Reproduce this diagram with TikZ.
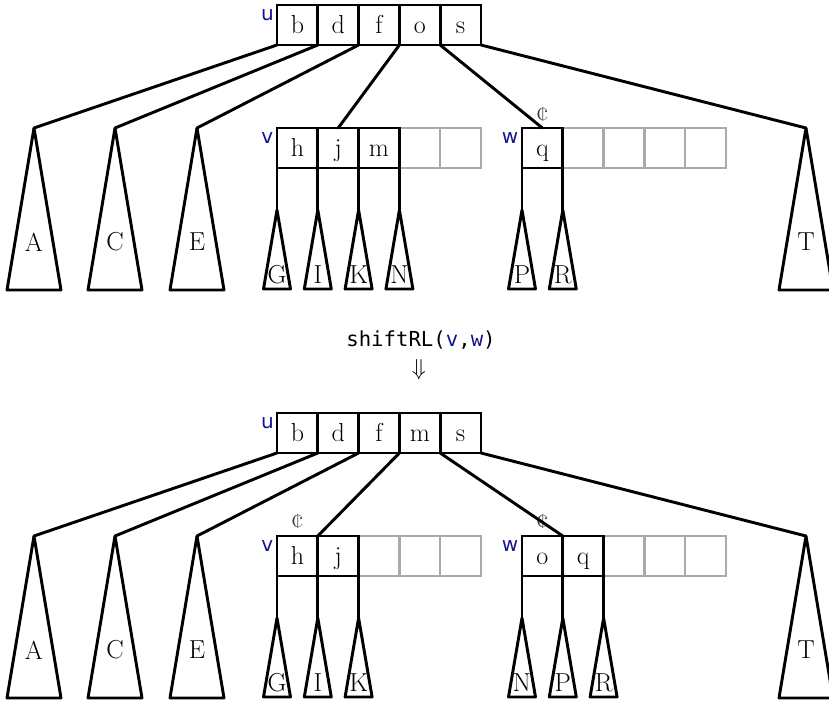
\documentclass[tikz,border=0pt]{standalone}
\usepackage{fontspec}
\usetikzlibrary{calc}
\newfontfamily\labfont{DejaVu Sans}
\newfontfamily\codefont{DejaVu Sans Mono}
\definecolor{lblue}{RGB}{20,20,140}
\definecolor{cellgray}{RGB}{170,170,170}
\definecolor{curgray}{RGB}{60,60,60}
\begin{document}
\begin{tikzpicture}[x=0.75pt,y=-0.75pt,
 cell/.style={draw=black, line width=2.2pt, minimum width=30.6pt, minimum height=30pt,
   inner sep=0pt, outer sep=0pt, text height=13.3pt, text depth=1.3pt,
   font=\fontsize{19.5}{22}\selectfont, anchor=north west},
 emptycell/.style={cell, draw=cellgray, line width=1.8pt},
 edge/.style={line width=2.2pt, line join=round, line cap=round},
 nodelab/.style={font=\labfont\fontsize{15}{17}\selectfont, text=lblue, anchor=north east, inner sep=0pt},
 treelab/.style={font=\fontsize{19.5}{22}\selectfont, inner sep=0pt},
 cursor/.style={font=\fontsize{21}{24}\selectfont, text=curgray, inner sep=0pt, anchor=south}
]
\useasboundingbox (0,0) rectangle (829,701);

\newcommand{\bigtree}[4]{% name, apex x, apex y, label
  \coordinate (#1) at (#2,#3);
  \draw[edge] (#1) -- ++(-27,162) -- ++(54,0) -- cycle;
  \node[treelab] (#1lab) at ($(#1)+(0,114)$) {#4};}
\newcommand{\smalltree}[4]{% name, anchor node point, label, dummy
  \coordinate (#1) at ($(#2)+(0,42)$);
  \draw[edge] (#2) -- (#1);
  \draw[edge] (#1) -- ++(-13.5,79) -- ++(27,0) -- cycle;
  \node[treelab] (#1lab) at ($(#1)+(0,65)$) {#3};}

% ================= upper =================
\foreach \t [count=\i] in {b,d,f,o,s}
  \node[cell] (Uu\i) at ({277+40.8*(\i-1)},5) {\t};
\node[nodelab] (Uulab) at ($(Uu1.north west)+(-3,4)$) {u};

\foreach \i in {4,5}
  \node[emptycell] (Uv\i) at ({277+40.8*(\i-1)},128) {};
\foreach \t [count=\i] in {h,j,m}
  \node[cell] (Uv\i) at ({277+40.8*(\i-1)},128) {\t};
\node[nodelab] (Uvlab) at ($(Uv1.north west)+(-3.5,4)$) {v};

\foreach \i in {2,3,4,5}
  \node[emptycell] (Uw\i) at ({522+40.8*(\i-1)},128) {};
\node[cell] (Uw1) at (522,128) {q};
\node[nodelab] (Uwlab) at ($(Uw1.north west)+(-3.5,4)$) {w};
\node[cursor] (Ucur) at ($(Uw1.north)+(0,-6)$) {¢};

\bigtree{UA}{34}{128}{A}
\bigtree{UC}{115}{128}{C}
\bigtree{UE}{197}{128}{E}
\bigtree{UT}{806}{128}{T}
\coordinate (Uvtop) at ($(Uv1.north west)!.5!(Uv3.north east)$);
\draw[edge] (Uu1.south west) -- (UA);
\draw[edge] (Uu2.south west) -- (UC);
\draw[edge] (Uu3.south west) -- (UE);
\draw[edge] (Uu4.south west) -- (Uvtop);
\draw[edge] (Uu5.south west) -- (Uw1.north);
\draw[edge] (Uu5.south east) -- (UT);

\smalltree{UG}{Uv1.south west}{G}{}
\smalltree{UI}{Uv2.south west}{I}{}
\smalltree{UK}{Uv3.south west}{K}{}
\smalltree{UN}{Uv3.south east}{N}{}
\smalltree{UP}{Uw1.south west}{P}{}
\smalltree{UR}{Uw1.south east}{R}{}

% ================= middle =================
\node[font=\codefont\fontsize{15.5}{18}\selectfont, inner sep=0pt] (op) at (421,340)
  {shiftRL(\textcolor{lblue}{v},\textcolor{lblue}{w})};
\node[font=\fontsize{17}{20}\selectfont, inner sep=0pt] (arr) at (419,370) {$\Downarrow$};

% ================= lower =================
\foreach \t [count=\i] in {b,d,f,m,s}
  \node[cell] (Lu\i) at ({277+40.8*(\i-1)},413) {\t};
\node[nodelab] (Lulab) at ($(Lu1.north west)+(-3,4)$) {u};

\foreach \i in {3,4,5}
  \node[emptycell] (Lv\i) at ({277+40.8*(\i-1)},536) {};
\foreach \t [count=\i] in {h,j}
  \node[cell] (Lv\i) at ({277+40.8*(\i-1)},536) {\t};
\node[nodelab] (Lvlab) at ($(Lv1.north west)+(-3.5,4)$) {v};
\node[cursor] (Lvcur) at ($(Lv1.north)+(0,-7)$) {¢};

\foreach \i in {3,4,5}
  \node[emptycell] (Lw\i) at ({522+40.8*(\i-1)},536) {};
\foreach \t [count=\i] in {o,q}
  \node[cell] (Lw\i) at ({522+40.8*(\i-1)},536) {\t};
\node[nodelab] (Lwlab) at ($(Lw1.north west)+(-3.5,4)$) {w};
\node[cursor] (Lwcur) at ($(Lw1.north)+(0,-7)$) {¢};

\bigtree{LA}{34}{536}{A}
\bigtree{LC}{115}{536}{C}
\bigtree{LE}{197}{536}{E}
\bigtree{LT}{806}{536}{T}
\draw[edge] (Lu1.south west) -- (LA);
\draw[edge] (Lu2.south west) -- (LC);
\draw[edge] (Lu3.south west) -- (LE);
\draw[edge] (Lu4.south west) -- (Lv1.north east);
\draw[edge] (Lu5.south west) -- (Lw1.north east);
\draw[edge] (Lu5.south east) -- (LT);

\smalltree{LG}{Lv1.south west}{G}{}
\smalltree{LI}{Lv2.south west}{I}{}
\smalltree{LK}{Lv2.south east}{K}{}
\smalltree{LN}{Lw1.south west}{N}{}
\smalltree{LP}{Lw2.south west}{P}{}
\smalltree{LR}{Lw2.south east}{R}{}
\end{tikzpicture}
\end{document}
